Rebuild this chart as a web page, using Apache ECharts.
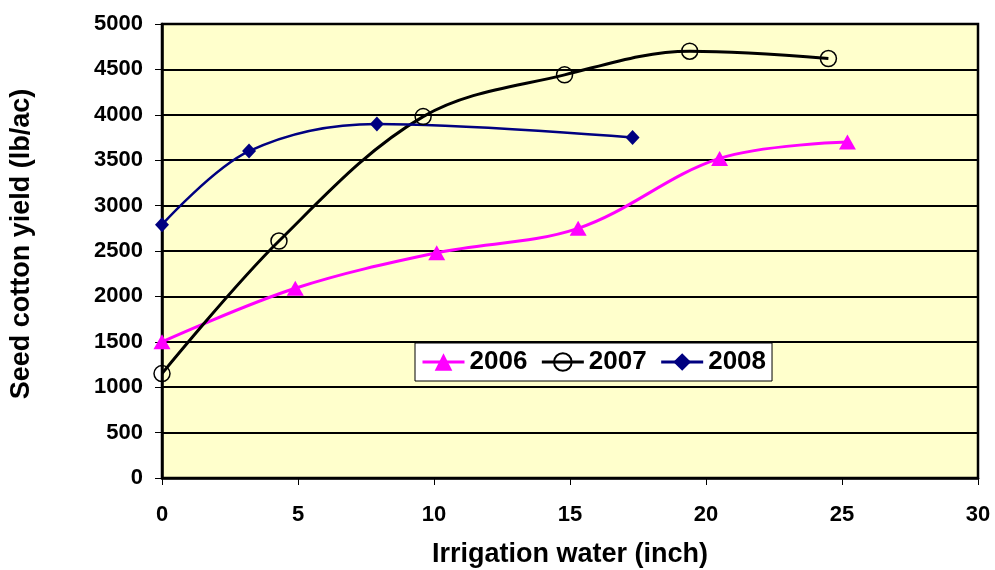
<!DOCTYPE html>
<html><head><meta charset="utf-8">
<script src="https://cdn.jsdelivr.net/npm/echarts@6/dist/echarts.min.js"></script>
<style>html,body{margin:0;padding:0;background:#fff}#c{width:995px;height:570px}</style>
</head><body><div id="c"></div>
<script>
const seriesNames = ['2006', '2007', '2008'];
const x2006 = [0, 4.9, 10.1, 15.3, 20.5, 25.2];
const y2006 = [1500, 2090, 2480, 2750, 3520, 3700];
const x2007 = [0, 4.3, 9.6, 14.8, 19.4, 24.5];
const y2007 = [1150, 2610, 3980, 4440, 4700, 4620];
const x2008 = [0, 3.2, 7.9, 17.3];
const y2008 = [2790, 3600, 3900, 3750];
const xTicks = {min: 0, max: 30, interval: 5};
const yTicks = {min: 0, max: 5000, interval: 500};

const pairs = (xs, ys) => xs.map((x, i) => [x, ys[i]]);
const FONT = '"Liberation Sans", Arial, sans-serif';
const chart = echarts.init(document.getElementById('c'), null, {renderer: 'canvas'});
chart.setOption({
  animation: false,
  backgroundColor: '#fff',
  grid: {left: 162, right: 17, top: 24, bottom: 92, outerBoundsMode: 'none', containLabel: false,
    show: true, backgroundColor: '#FFFFCC', borderColor: '#000', borderWidth: 2.5},
  legend: {
    data: seriesNames,
    left: 415, top: 343,
    padding: [6, 6, 6, 6],
    itemWidth: 42, itemHeight: 22, itemGap: 13,
    backgroundColor: '#fff', borderColor: '#000', borderWidth: 1,
    lineStyle: {width: 3},
    textStyle: {fontFamily: FONT, fontWeight: 'bold', fontSize: 26, color: '#000'}
  },
  xAxis: {
    type: 'value', min: xTicks.min, max: xTicks.max, interval: xTicks.interval,
    name: 'Irrigation water (inch)', nameLocation: 'middle', nameGap: 63,
    nameTextStyle: {fontFamily: FONT, fontWeight: 'bold', fontSize: 27, color: '#000'},
    axisLine: {show: true, lineStyle: {color: '#000', width: 2.5}},
    axisTick: {show: true, length: 7, lineStyle: {color: '#000', width: 1}},
    axisLabel: {fontFamily: FONT, fontWeight: 'bold', fontSize: 22, color: '#000', margin: 26},
    splitLine: {show: false}
  },
  yAxis: {
    type: 'value', min: yTicks.min, max: yTicks.max, interval: yTicks.interval,
    name: 'Seed cotton yield (lb/ac)', nameLocation: 'middle', nameGap: 127, nameRotate: 90,
    nameTextStyle: {fontFamily: FONT, fontWeight: 'bold', fontSize: 27, color: '#000', padding: [0, 0, 0, 14]},
    axisLine: {show: true, lineStyle: {color: '#000', width: 2.5}},
    axisTick: {show: true, length: 7, lineStyle: {color: '#000', width: 1}},
    axisLabel: {fontFamily: FONT, fontWeight: 'bold', fontSize: 22, color: '#000', margin: 19,
      formatter: v => String(v)},
    splitLine: {show: true, lineStyle: {color: '#000', width: 2}}
  },
  series: [
    {name: seriesNames[0], type: 'line', smooth: 0.35, data: pairs(x2006, y2006),
     symbol: 'triangle', symbolSize: [17, 15],
     lineStyle: {color: '#FF00FF', width: 3}, itemStyle: {color: '#FF00FF'}},
    {name: seriesNames[1], type: 'line', smooth: 0.35, data: pairs(x2007, y2007),
     symbol: 'circle', symbolSize: 16,
     lineStyle: {color: '#000', width: 3}, itemStyle: {color: 'rgba(0,0,0,0)', borderColor: '#000', borderWidth: 1.5}},
    {name: seriesNames[2], type: 'line', smooth: 0.35, data: pairs(x2008, y2008),
     symbol: 'diamond', symbolSize: [14, 15],
     lineStyle: {color: '#000080', width: 2.5}, itemStyle: {color: '#000080'}}
  ]
});
</script></body></html>
